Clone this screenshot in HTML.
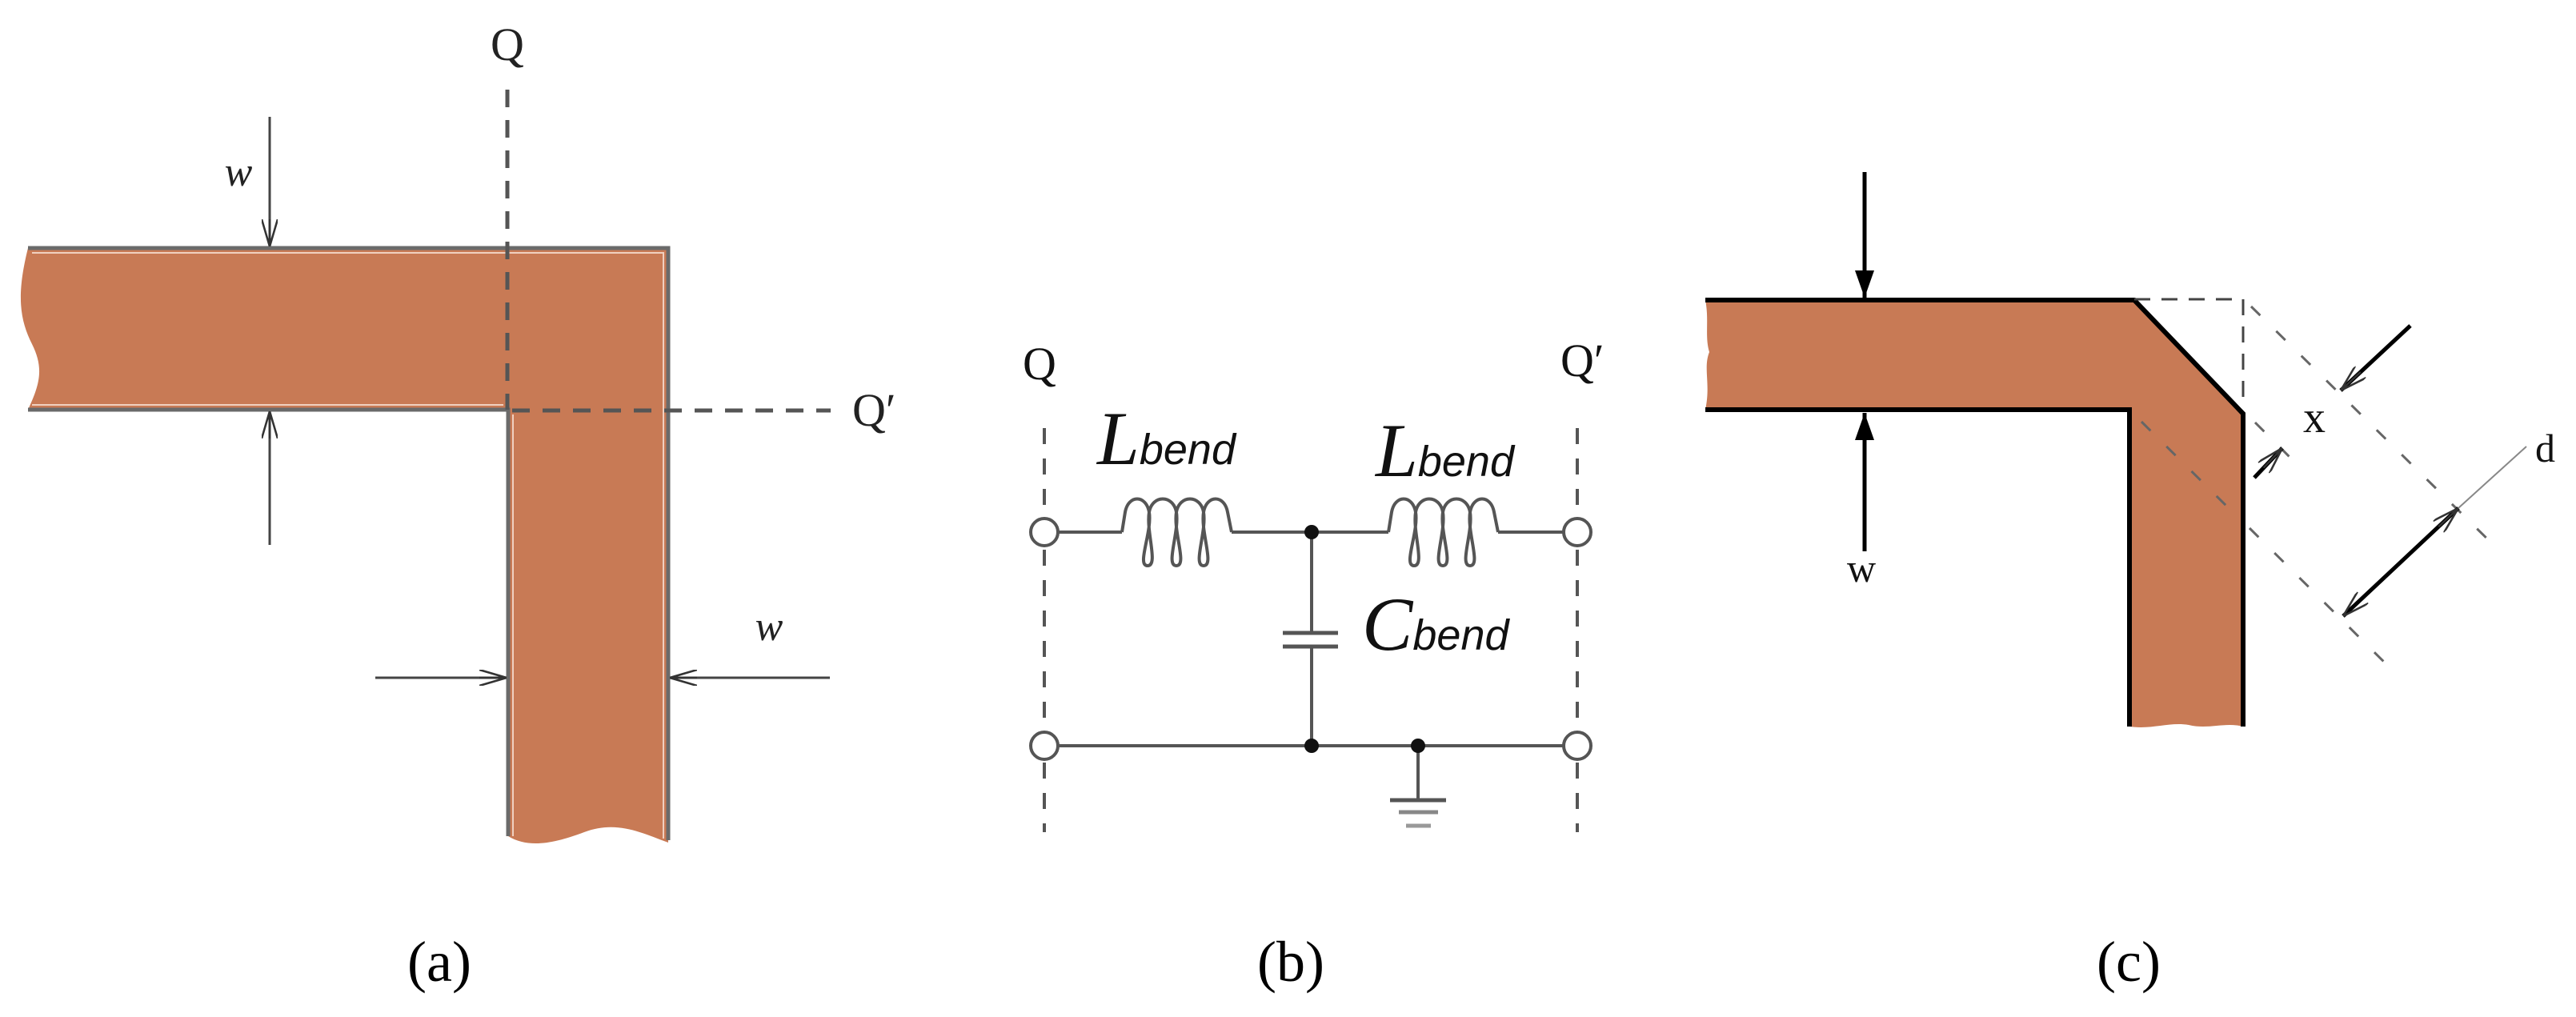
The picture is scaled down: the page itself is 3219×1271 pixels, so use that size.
<!DOCTYPE html>
<html><head><meta charset="utf-8"><style>
html,body{margin:0;padding:0;background:#fff}
svg{display:block}
</style></head><body>
<svg width="3219" height="1271" viewBox="0 0 3219 1271" xmlns="http://www.w3.org/2000/svg">
<defs>
<marker id="ah" viewBox="0 0 10 10" refX="10" refY="5" markerWidth="34" markerHeight="20" markerUnits="userSpaceOnUse" orient="auto" preserveAspectRatio="none"><path d="M0,0 L10,5 L0,10 M0,5 L10,5" fill="none" stroke="#333" stroke-width="1.2"/></marker>
<marker id="ahs" viewBox="0 0 10 10" refX="0" refY="5" markerWidth="34" markerHeight="20" markerUnits="userSpaceOnUse" orient="auto" preserveAspectRatio="none"><path d="M10,0 L0,5 L10,10" fill="none" stroke="#333" stroke-width="1.2"/></marker>
<marker id="af" viewBox="0 0 10 10" refX="10" refY="5" markerWidth="34" markerHeight="24" markerUnits="userSpaceOnUse" orient="auto" preserveAspectRatio="none"><path d="M0,0 L10,5 L0,10 z" fill="#000"/></marker>
</defs>
<!-- Panel (a) -->
<path d="M35,310 L835,310 L835,1053 C800,1040 770,1025 730,1040 C690,1055 660,1060 635,1045 L635,512 L35,512 C50,480 55,460 40,430 C25,400 20,370 35,310 Z" fill="#C87A55"/>
<g stroke="#6a6a6a" stroke-width="5" fill="none">
<path d="M35,310 L835,310 L835,1050"/>
<path d="M35,512 L635,512 L635,1045"/>
</g>
<g stroke="#f0d0c0" stroke-width="2" fill="none">
<path d="M40,316 L829,316 L829,1048"/>
<path d="M40,506 L629,506"/><path d="M641,518 L641,1045"/>
</g>
<g stroke="#555" stroke-width="5" fill="none" stroke-dasharray="22,16">
<line x1="634" y1="112" x2="634" y2="512"/>
<line x1="640" y1="513" x2="1038" y2="513"/>
</g>
<g stroke="#444" stroke-width="3" fill="none">
<line x1="337" y1="146" x2="337" y2="308" marker-end="url(#ah)"/>
<line x1="337" y1="681" x2="337" y2="514" marker-end="url(#ah)"/>
<line x1="469" y1="847" x2="633" y2="847" marker-end="url(#ah)"/>
<line x1="1037" y1="847" x2="837" y2="847" marker-end="url(#ah)"/>
</g>
<g font-family="Liberation Serif, serif" fill="#222">
<text x="634" y="75" font-size="58" text-anchor="middle">Q</text>
<text x="1065" y="532" font-size="58">Q′</text>
<text x="298" y="232" font-size="52" font-style="italic" text-anchor="middle">w</text>
<text x="961" y="800" font-size="52" font-style="italic" text-anchor="middle">w</text>
<text x="549" y="1226" font-size="72" text-anchor="middle" fill="#000">(a)</text>
</g>
<!-- Panel (b) -->
<g stroke="#555" stroke-width="4" fill="none" stroke-dasharray="20,18">
<line x1="1305" y1="535" x2="1305" y2="1040"/>
<line x1="1971" y1="535" x2="1971" y2="1040"/>
</g>
<g stroke="#555" stroke-width="4" fill="none">
<line x1="1323" y1="665" x2="1402" y2="665"/>
<path id="ind" d="M1402,665 L1406,640 C1410,618 1432,618 1436,640 C1440,665 1420,707 1434,707 C1448,707 1432,665 1436,640 C1440,618 1466,618 1470,640 C1474,665 1456,707 1470,707 C1484,707 1466,665 1470,640 C1474,618 1500,618 1504,640 C1508,665 1490,707 1504,707 C1518,707 1500,665 1504,640 C1508,618 1530,618 1534,640 L1539,665"/>
<line x1="1539" y1="665" x2="1735" y2="665"/>
<use href="#ind" transform="translate(333,0)"/>
<line x1="1872" y1="665" x2="1953" y2="665"/>
<line x1="1323" y1="932" x2="1953" y2="932"/>
<line x1="1639" y1="665" x2="1639" y2="791"/>
<line x1="1639" y1="808" x2="1639" y2="932"/>
<line x1="1603" y1="791" x2="1672" y2="791" stroke-width="5"/>
<line x1="1603" y1="808" x2="1672" y2="808" stroke-width="5"/>
<line x1="1772" y1="932" x2="1772" y2="1000"/>
<line x1="1737" y1="1000" x2="1807" y2="1000" stroke-width="5"/>
<line x1="1748" y1="1015" x2="1797" y2="1015" stroke-width="5" stroke="#888"/>
<line x1="1757" y1="1032" x2="1788" y2="1032" stroke-width="5" stroke="#999"/>
<circle cx="1305" cy="665" r="17" fill="#fff"/>
<circle cx="1971" cy="665" r="17" fill="#fff"/>
<circle cx="1305" cy="932" r="17" fill="#fff"/>
<circle cx="1971" cy="932" r="17" fill="#fff"/>
</g>
<circle cx="1639" cy="665" r="9" fill="#111"/>
<circle cx="1639" cy="932" r="9" fill="#111"/>
<circle cx="1772" cy="932" r="9" fill="#111"/>
<g font-family="Liberation Serif, serif" fill="#111">
<text x="1299" y="474" font-size="58" text-anchor="middle">Q</text>
<text x="1950" y="470" font-size="58">Q′</text>
<text x="1371" y="580" font-size="95" font-style="italic">L<tspan font-family="Liberation Sans, sans-serif" font-size="54">bend</tspan></text>
<text x="1719" y="595" font-size="95" font-style="italic">L<tspan font-family="Liberation Sans, sans-serif" font-size="54">bend</tspan></text>
<text x="1702" y="812" font-size="95" font-style="italic">C<tspan font-family="Liberation Sans, sans-serif" font-size="54">bend</tspan></text>
<text x="1613" y="1226" font-size="72" text-anchor="middle" fill="#000">(b)</text>
</g>
<!-- Panel (c) -->
<path d="M2131,375 L2667,375 L2803,517 L2803,908 C2780,902 2760,912 2735,906 C2710,902 2690,912 2661,908 L2661,512 L2131,512 C2138,480 2128,460 2136,440 C2130,420 2136,400 2131,375 Z" fill="#C87A55"/>
<g stroke="#000" stroke-width="6" fill="none" stroke-linejoin="miter">
<path d="M2131,375 L2667,375 L2803,517 L2803,908"/>
<path d="M2131,512 L2661,512 L2661,908"/>
</g>
<g stroke="#444" stroke-width="3" fill="none" stroke-dasharray="20,14">
<path d="M2667,374 L2803,374 L2803,510"/>
</g>
<g stroke="#666" stroke-width="3" fill="none" stroke-dasharray="16,28">
<line x1="2813" y1="383" x2="3125" y2="690"/>
<line x1="2818" y1="528" x2="2872" y2="582"/>
<line x1="2676" y1="527" x2="2790" y2="640"/>
<line x1="2811" y1="660" x2="2992" y2="840"/>
</g>
<line x1="3072" y1="635" x2="3157" y2="558" stroke="#888" stroke-width="2"/>
<g stroke="#000" stroke-width="5" fill="none">
<line x1="2330" y1="215" x2="2330" y2="372" marker-end="url(#af)"/>
<line x1="2330" y1="689" x2="2330" y2="516" marker-end="url(#af)"/>
<line x1="3012" y1="407" x2="2925" y2="488" marker-end="url(#ah)"/>
<line x1="2817" y1="597" x2="2852" y2="560" marker-end="url(#ah)"/>
<line x1="2928" y1="770" x2="3072" y2="635" marker-end="url(#ah)" marker-start="url(#ahs)"/>
</g>
<g font-family="Liberation Serif, serif" fill="#111">
<text x="2892" y="540" font-size="56" text-anchor="middle">x</text>
<text x="3168" y="577" font-size="50">d</text>
<text x="2326" y="727" font-size="50" text-anchor="middle">w</text>
<text x="2660" y="1226" font-size="72" text-anchor="middle" fill="#000">(c)</text>
</g>
</svg>
</body></html>
